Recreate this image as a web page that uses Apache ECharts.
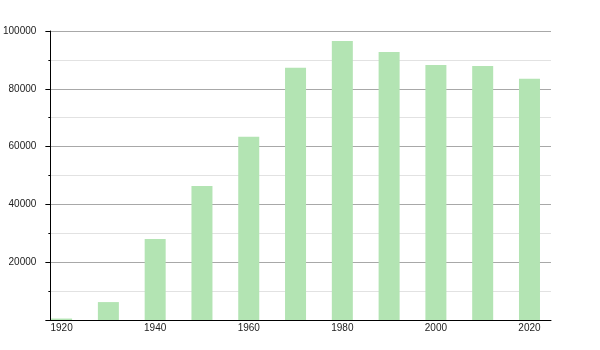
<!DOCTYPE html>
<html>
<head>
<meta charset="utf-8">
<script src="https://cdn.jsdelivr.net/npm/echarts@6/dist/echarts.min.js"></script>
<style>
html,body{margin:0;padding:0;background:#fff;}
#chart{width:600px;height:350px;}
</style>
</head>
<body>
<div id="chart"></div>
<script>
const years = [1920, 1930, 1940, 1950, 1960, 1970, 1980, 1990, 2000, 2010, 2020];
const population = [500, 6200, 28000, 46400, 63400, 87300, 96500, 92700, 88200, 87900, 83500];
const xTickLabels = [1920, 1940, 1960, 1980, 2000, 2020];

const chart = echarts.init(document.getElementById('chart'), null, {renderer: 'canvas'});
const font = '"Liberation Sans", Arial, Helvetica, sans-serif';
chart.setOption({
  animation: false,
  backgroundColor: '#ffffff',
  grid: {left: 50, right: 49, top: 31, bottom: 30, containLabel: false},
  xAxis: {
    type: 'value',
    min: 1917.6,
    max: 2024.6,
    axisLine: {show: true, onZero: false, lineStyle: {color: '#000', width: 1}},
    axisTick: {show: false},
    splitLine: {show: false},
    axisLabel: {
      customValues: xTickLabels,
      margin: 3,
      fontSize: 10,
      fontFamily: font,
      color: '#222',
      formatter: v => String(v)
    }
  },
  yAxis: {
    type: 'value',
    min: 0,
    max: 100000,
    interval: 20000,
    axisLine: {show: true, lineStyle: {color: '#000', width: 1}},
    axisTick: {show: true, length: 5, lineStyle: {color: '#000'}},
    minorTick: {show: true, splitNumber: 2, length: 2, lineStyle: {color: '#000'}},
    splitLine: {show: true, lineStyle: {color: '#a8a8a8', width: 1}},
    minorSplitLine: {show: true, lineStyle: {color: '#e2e2e2', width: 1}},
    axisLabel: {
      margin: 14,
      fontSize: 10,
      fontFamily: font,
      color: '#222',
      formatter: v => v === 0 ? '' : String(v)
    }
  },
  series: [{
    type: 'bar',
    barWidth: 21,
    data: years.map((y, i) => [y, population[i]]),
    itemStyle: {color: '#b3e4b3'}
  }]
});
</script>
</body>
</html>
